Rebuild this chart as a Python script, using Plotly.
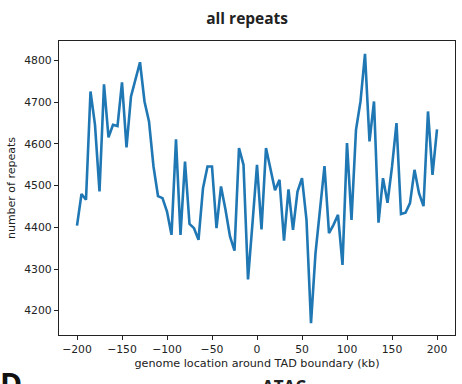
import plotly.graph_objects as go

positions_kb = list(range(-200, 201, 5))
repeat_counts = [
    4404, 4480, 4466, 4726, 4646, 4486, 4743, 4616, 4646, 4643,
    4748, 4592, 4714, 4758, 4796, 4702, 4654, 4546, 4475, 4470,
    4438, 4382, 4611, 4382, 4558, 4408, 4398, 4370, 4494, 4546,
    4546, 4398, 4498, 4442, 4378, 4344, 4590, 4550, 4275, 4410,
    4550, 4395, 4590, 4540, 4489, 4514, 4368, 4491, 4394, 4486,
    4518, 4418, 4170, 4338, 4450, 4547, 4386, 4406, 4430, 4310,
    4602, 4418, 4634, 4702, 4816, 4606, 4702, 4411, 4518, 4459,
    4545, 4650, 4432, 4435, 4458, 4538, 4482, 4451, 4678, 4526,
    4635,
]
x_ticks = [-200, -150, -100, -50, 0, 50, 100, 150, 200]
x_tick_text = ["\u2212200", "\u2212150", "\u2212100", "\u221250", "0", "50", "100", "150", "200"]
y_ticks = [4200, 4300, 4400, 4500, 4600, 4700, 4800]

fig = go.Figure()
fig.add_trace(go.Scatter(
    x=positions_kb, y=repeat_counts, mode="lines",
    line=dict(color="#1f77b4", width=2.6),
    showlegend=False,
))

axis_common = dict(
    showline=True, linecolor="#222", linewidth=1.2, mirror=True,
    ticks="outside", ticklen=4, tickwidth=1, tickcolor="#222",
    showgrid=False, zeroline=False,
    tickfont=dict(family="DejaVu Sans", size=10.8, color="#222"),
)

fig.update_layout(
    width=462, height=384,
    margin=dict(l=59, r=7, t=41, b=49),
    paper_bgcolor="white", plot_bgcolor="white",
    title=dict(text="<b>all repeats</b>", x=0.535, xanchor="center", y=0.952, yanchor="middle",
               font=dict(family="Open Sans", size=15.5, color="#222")),
    xaxis=dict(range=[-220, 220], tickvals=x_ticks, ticktext=x_tick_text,
               title=dict(text="genome location around TAD boundary (kb)", standoff=4,
                          font=dict(family="DejaVu Sans", size=11.2, color="#222")),
               **axis_common),
    yaxis=dict(range=[4141.7, 4847], tickvals=y_ticks,
               title=dict(text="number of repeats", standoff=6,
                          font=dict(family="DejaVu Sans", size=11, color="#222")),
               **axis_common),
    annotations=[
        dict(text="<b>D</b>", x=-0.155, y=-0.088, xref="paper", yref="paper",
             xanchor="left", yanchor="top", showarrow=False,
             font=dict(family="Open Sans", size=30, color="#111")),
        dict(text="<b>ATAC</b>", x=0.568, y=-0.13, xref="paper", yref="paper",
             xanchor="center", yanchor="top", showarrow=False,
             font=dict(family="Open Sans", size=17, color="#222")),
    ],
)

fig.write_html("out.html")
